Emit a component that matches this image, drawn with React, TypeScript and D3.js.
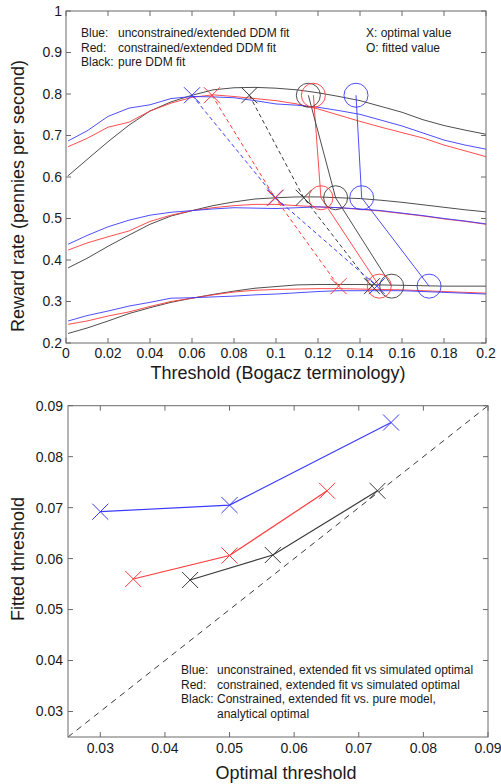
import React from "react";
import * as d3 from "d3";

// ---------- Top panel data ----------
const thresholds = [0.001, 0.01, 0.02, 0.03, 0.04, 0.05, 0.06, 0.07, 0.08, 0.09, 0.1, 0.11, 0.12, 0.13, 0.14, 0.15, 0.16, 0.17, 0.18, 0.19, 0.2];

const topBlue = [0.687, 0.711, 0.746, 0.766, 0.774, 0.789, 0.794, 0.793, 0.791, 0.784, 0.776, 0.773, 0.768, 0.76, 0.751, 0.737, 0.723, 0.706, 0.689, 0.677, 0.667];
const topRed = [0.673, 0.693, 0.72, 0.732, 0.759, 0.778, 0.792, 0.798, 0.794, 0.789, 0.784, 0.776, 0.764, 0.749, 0.734, 0.72, 0.707, 0.694, 0.677, 0.663, 0.649];
const topBlack = [0.603, 0.642, 0.685, 0.725, 0.759, 0.781, 0.797, 0.81, 0.815, 0.816, 0.814, 0.81, 0.803, 0.794, 0.784, 0.77, 0.756, 0.738, 0.724, 0.713, 0.703];

const midBlue = [0.438, 0.459, 0.48, 0.496, 0.508, 0.515, 0.519, 0.523, 0.526, 0.525, 0.524, 0.526, 0.528, 0.526, 0.523, 0.519, 0.513, 0.507, 0.5, 0.494, 0.487];
const midRed = [0.424, 0.441, 0.456, 0.47, 0.493, 0.508, 0.519, 0.526, 0.531, 0.534, 0.534, 0.531, 0.528, 0.526, 0.522, 0.518, 0.512, 0.506, 0.499, 0.493, 0.486];
const midBlack = [0.381, 0.404, 0.433, 0.46, 0.486, 0.506, 0.519, 0.531, 0.54, 0.547, 0.55, 0.552, 0.552, 0.55, 0.548, 0.544, 0.539, 0.533, 0.527, 0.521, 0.516];

const lowBlue = [0.253, 0.266, 0.277, 0.289, 0.298, 0.308, 0.309, 0.311, 0.313, 0.316, 0.318, 0.321, 0.324, 0.326, 0.326, 0.326, 0.326, 0.324, 0.322, 0.32, 0.318];
const lowRed = [0.245, 0.253, 0.265, 0.275, 0.288, 0.3, 0.308, 0.316, 0.323, 0.327, 0.329, 0.33, 0.331, 0.331, 0.33, 0.329, 0.328, 0.326, 0.324, 0.322, 0.32];
const lowBlack = [0.223, 0.236, 0.253, 0.271, 0.285, 0.298, 0.308, 0.317, 0.325, 0.332, 0.336, 0.34, 0.341, 0.341, 0.341, 0.34, 0.339, 0.338, 0.337, 0.337, 0.337];

// marker reward levels (top, middle, bottom)
const markerLevels = [0.797, 0.55, 0.337];
// optimal thresholds (X markers)
const blueOpt = [0.06, 0.0998, 0.148];
const redOpt = [0.0695, 0.0995, 0.1298];
const blackOpt = [0.0873, 0.1132, 0.1457];
// fitted thresholds (O markers)
const blueFit = [0.1381, 0.1408, 0.1729];
const redFit = [0.1178, 0.1214, 0.1492];
const blackFit = [0.1154, 0.1284, 0.1551];

const topXTicks = [0, 0.02, 0.04, 0.06, 0.08, 0.1, 0.12, 0.14, 0.16, 0.18, 0.2];
const topXLabels = ["0", "0.02", "0.04", "0.06", "0.08", "0.1", "0.12", "0.14", "0.16", "0.18", "0.2"];
const topYTicks = [0.2, 0.3, 0.4, 0.5, 0.6, 0.7, 0.8, 0.9, 1];
const topYLabels = ["0.2", "0.3", "0.4", "0.5", "0.6", "0.7", "0.8", "0.9", "1"];

// ---------- Bottom panel data ----------
const blueOptimal = [0.03, 0.05, 0.075];
const blueFitted = [0.0692, 0.0705, 0.0867];
const redOptimal = [0.0351, 0.05, 0.0651];
const redFitted = [0.056, 0.0606, 0.0733];
const blackOptimal = [0.0439, 0.0567, 0.0729];
const blackFitted = [0.0558, 0.0607, 0.0733];

const botTicks = [0.03, 0.04, 0.05, 0.06, 0.07, 0.08, 0.09];
const botLabels = ["0.03", "0.04", "0.05", "0.06", "0.07", "0.08", "0.09"];

const BLUE = "#3a3aff";
const RED = "#ff3a3a";
const BLACK = "#3a3a3a";
const FONT = "'Liberation Sans', Arial, Helvetica, sans-serif";
const TXT = "#1a1a1a";
const AXIS = "#6a6a6a";

function XMark({ cx, cy, s, color }: { cx: number; cy: number; s: number; color: string }) {
  return (
    <path d={`M${cx - s},${cy - s}L${cx + s},${cy + s}M${cx - s},${cy + s}L${cx + s},${cy - s}`} stroke={color} strokeWidth={1} fill="none" />
  );
}

export default function App() {
  // top scales
  const tx = d3.scaleLinear().domain([0, 0.2]).range([66, 486]);
  const ty = d3.scaleLinear().domain([0.2, 1]).range([343, 11]);
  // bottom scales
  const bx = d3.scaleLinear().domain([0.025, 0.09]).range([68, 488]);
  const by = d3.scaleLinear().domain([0.025, 0.09]).range([737, 405.7]);

  const curve = (vals: number[]) =>
    d3.line<number>().x((_, i) => tx(thresholds[i])).y((v) => ty(v))(vals) || "";

  const curves: [number[], string][] = [
    [lowBlack, BLACK], [lowRed, RED], [lowBlue, BLUE],
    [midBlack, BLACK], [midRed, RED], [midBlue, BLUE],
    [topBlack, BLACK], [topRed, RED], [topBlue, BLUE],
  ];

  const markerLine = (xs: number[]) =>
    d3.line<number>().x((v) => tx(v)).y((_, i) => ty(markerLevels[i]))(xs) || "";

  const pairLine = (xs: number[], ys: number[]) =>
    d3.line<number>().x((v) => bx(v)).y((_, i) => by(ys[i]))(xs) || "";

  const tk = 5;
  const [tx0, tx1] = tx.range();
  const [ty0, ty1] = ty.range();
  const [bx0, bx1] = bx.range();
  const [by0, by1] = by.range();

  return (
    <svg width={501} height={784} style={{ position: "absolute", left: 0, top: 0, background: "#fff" }} fontFamily={FONT}>
      <rect width={501} height={784} fill="#fff" />
      {/* ===== TOP PANEL ===== */}
      <g>
        {curves.map(([vals, c], i) => (
          <path key={i} d={curve(vals)} stroke={c} strokeWidth={0.9} fill="none" />
        ))}
        {/* dashed lines through optimal values */}
        <path d={markerLine(blackOpt)} stroke={BLACK} strokeWidth={1} strokeDasharray="4,3" fill="none" />
        <path d={markerLine(blueOpt)} stroke={BLUE} strokeWidth={1} strokeDasharray="4,3" fill="none" />
        <path d={markerLine(redOpt)} stroke={RED} strokeWidth={1} strokeDasharray="4,3" fill="none" />
        {/* solid lines through fitted values */}
        <path d={markerLine(blueFit)} stroke={BLUE} strokeWidth={0.9} fill="none" />
        <path d={markerLine(redFit)} stroke={RED} strokeWidth={0.9} fill="none" />
        <path d={markerLine(blackFit)} stroke={BLACK} strokeWidth={0.9} fill="none" />
        {markerLevels.map((lv, i) => (
          <g key={"m" + i}>
            <XMark cx={tx(blueOpt[i])} cy={ty(lv)} s={8} color={BLUE} />
            <XMark cx={tx(blackOpt[i])} cy={ty(lv)} s={8} color={BLACK} />
            <XMark cx={tx(redOpt[i])} cy={ty(lv)} s={8} color={RED} />
            <circle cx={tx(blueFit[i])} cy={ty(lv)} r={12} stroke={BLUE} fill="none" strokeWidth={0.9} />
            <circle cx={tx(blackFit[i])} cy={ty(lv)} r={12} stroke={BLACK} fill="none" strokeWidth={0.9} />
            <circle cx={tx(redFit[i])} cy={ty(lv)} r={12} stroke={RED} fill="none" strokeWidth={0.9} />
          </g>
        ))}
        {/* box */}
        <rect x={tx0} y={ty1} width={tx1 - tx0} height={ty0 - ty1} fill="none" stroke={AXIS} strokeWidth={1} />
        {topXTicks.map((t, i) => (
          <g key={"tx" + i}>
            <line x1={tx(t)} x2={tx(t)} y1={ty0} y2={ty0 - tk} stroke={AXIS} />
            <line x1={tx(t)} x2={tx(t)} y1={ty1} y2={ty1 + tk} stroke={AXIS} />
            <text x={tx(t)} y={353} dy="0.35em" textAnchor="middle" fontSize={14} fill={TXT}>{topXLabels[i]}</text>
          </g>
        ))}
        {topYTicks.map((t, i) => (
          <g key={"ty" + i}>
            <line x1={tx0} x2={tx0 + tk} y1={ty(t)} y2={ty(t)} stroke={AXIS} />
            <line x1={tx1} x2={tx1 - tk} y1={ty(t)} y2={ty(t)} stroke={AXIS} />
            <text x={62} y={ty(t)} dy="0.35em" textAnchor="end" fontSize={14} fill={TXT}>{topYLabels[i]}</text>
          </g>
        ))}
        <text x={278} y={373} dy="0.35em" textAnchor="middle" fontSize={18} fill={TXT}>Threshold (Bogacz terminology)</text>
        <text transform="translate(18,196) rotate(-90)" dy="0.35em" textAnchor="middle" fontSize={18} fill={TXT}>Reward rate (pennies per second)</text>
        {/* legend */}
        <g fontSize={12} fill={TXT}>
          <text x={81} y={33} dy="0.35em">Blue:</text>
          <text x={118} y={33} dy="0.35em">unconstrained/extended DDM fit</text>
          <text x={81} y={47.5} dy="0.35em">Red:</text>
          <text x={118} y={47.5} dy="0.35em">constrained/extended DDM fit</text>
          <text x={81} y={62} dy="0.35em">Black:</text>
          <text x={118} y={62} dy="0.35em">pure DDM fit</text>
          <text x={366} y={33} dy="0.35em">X: optimal value</text>
          <text x={366} y={47.5} dy="0.35em">O: fitted value</text>
        </g>
      </g>

      {/* ===== BOTTOM PANEL ===== */}
      <g>
        <line x1={bx(0.025)} y1={by(0.025)} x2={bx(0.09)} y2={by(0.09)} stroke={BLACK} strokeWidth={1} strokeDasharray="6,5" />
        <path d={pairLine(blueOptimal, blueFitted)} stroke={BLUE} strokeWidth={1.2} fill="none" />
        <path d={pairLine(redOptimal, redFitted)} stroke={RED} strokeWidth={1.2} fill="none" />
        <path d={pairLine(blackOptimal, blackFitted)} stroke={BLACK} strokeWidth={1.2} fill="none" />
        {blueOptimal.map((v, i) => <XMark key={"bb" + i} cx={bx(v)} cy={by(blueFitted[i])} s={8} color={BLUE} />)}
        {redOptimal.map((v, i) => <XMark key={"br" + i} cx={bx(v)} cy={by(redFitted[i])} s={8} color={RED} />)}
        {blackOptimal.map((v, i) => <XMark key={"bk" + i} cx={bx(v)} cy={by(blackFitted[i])} s={8} color={BLACK} />)}
        <rect x={bx0} y={by1} width={bx1 - bx0} height={by0 - by1} fill="none" stroke={AXIS} strokeWidth={1} />
        {botTicks.map((t, i) => (
          <g key={"bt" + i}>
            <line x1={bx(t)} x2={bx(t)} y1={by0} y2={by0 - tk} stroke={AXIS} />
            <line x1={bx(t)} x2={bx(t)} y1={by1} y2={by1 + tk} stroke={AXIS} />
            <text x={bx(t)} y={748} dy="0.35em" textAnchor="middle" fontSize={14} fill={TXT}>{botLabels[i]}</text>
            <line x1={bx0} x2={bx0 + tk} y1={by(t)} y2={by(t)} stroke={AXIS} />
            <line x1={bx1} x2={bx1 - tk} y1={by(t)} y2={by(t)} stroke={AXIS} />
            <text x={63} y={by(t)} dy="0.35em" textAnchor="end" fontSize={14} fill={TXT}>{botLabels[i]}</text>
          </g>
        ))}
        <text x={286} y={773} dy="0.35em" textAnchor="middle" fontSize={18} fill={TXT}>Optimal threshold</text>
        <text transform="translate(18,559) rotate(-90)" dy="0.35em" textAnchor="middle" fontSize={18} fill={TXT}>Fitted threshold</text>
        <g fontSize={12} fill={TXT}>
          <text x={181} y={670} dy="0.35em">Blue:</text>
          <text x={217} y={670} dy="0.35em">unconstrained, extended fit vs simulated optimal</text>
          <text x={181} y={684.5} dy="0.35em">Red:</text>
          <text x={217} y={684.5} dy="0.35em">constrained, extended fit vs simulated optimal</text>
          <text x={181} y={699} dy="0.35em">Black:</text>
          <text x={217} y={699} dy="0.35em">Constrained, extended fit vs. pure model,</text>
          <text x={217} y={713.5} dy="0.35em">analytical optimal</text>
        </g>
      </g>
    </svg>
  );
}
